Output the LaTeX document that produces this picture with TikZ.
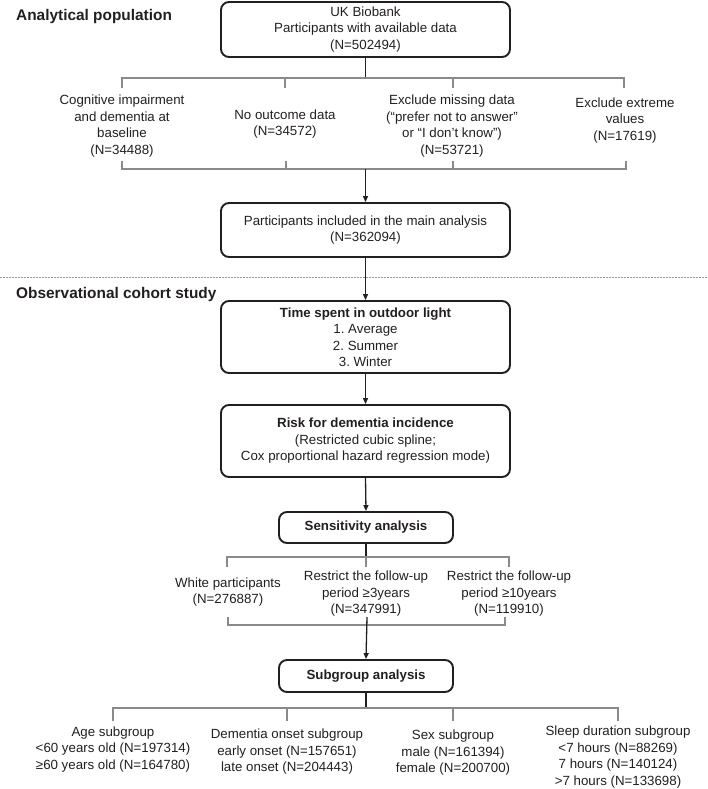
\documentclass[tikz,border=0pt]{standalone}
\usepackage{fontspec}
\setmainfont{Liberation Sans}
\usetikzlibrary{arrows.meta}
\definecolor{ink}{HTML}{231F20}
\definecolor{branchgray}{HTML}{8A8A8A}
\definecolor{dotgray}{HTML}{9A9A9A}
\frenchspacing
\begin{document}
\begin{tikzpicture}[x=1pt,y=-1pt,
  txt/.style={font=\fontsize{13.3}{16.5}\selectfont, text=ink, align=center, inner sep=0pt},
  head/.style={font=\fontsize{15.4}{18}\selectfont\bfseries, text=ink, anchor=west, inner sep=0pt},
  box/.style={txt, draw=ink, line width=1.9pt, rounded corners=8pt},
  conn/.style={draw=ink, line width=1.3pt},
  arr/.style={draw=ink, line width=1.3pt, -{Triangle[length=6pt,width=5pt]}},
  gline/.style={draw=branchgray, line width=1.2pt},
]
\useasboundingbox (0,0) rectangle (708,789);

% ---- headings
\node[head] (h1) at (16,17) {Analytical population};
\node[head] (h2) at (16,295) {Observational cohort study};

% ---- main boxes
\node[box, minimum width=289pt, minimum height=55pt] (b1) at (365.5,29.5)
  {UK Biobank\\Participants with available data\\(N=502494)};
\node[box, minimum width=289pt, minimum height=54pt] (b2) at (365.5,230)
  {Participants included in the main analysis\\(N=362094)};
\node[box, minimum width=289pt, minimum height=72pt] (b3) at (365.5,337)
  {\textbf{Time spent in outdoor light}\\1. Average\\2. Summer\\3. Winter};
\node[box, minimum width=289pt, minimum height=72pt] (b4) at (365.5,441)
  {\textbf{Risk for dementia incidence}\\(Restricted cubic spline;\\Cox proportional hazard regression mode)};
\node[box, minimum width=174pt, minimum height=31pt] (b5) at (366,527.5)
  {\textbf{Sensitivity analysis}};
\node[box, minimum width=174pt, minimum height=32pt] (b6) at (366,676)
  {\textbf{Subgroup analysis}};

% ---- exclusion texts
\node[txt] (e1) at (122,126) {Cognitive impairment\\and dementia at\\baseline\\(N=34488)};
\node[txt] (e2) at (285,124) {No outcome data\\(N=34572)};
\node[txt] (e3) at (452,126) {Exclude missing data\\(“prefer not to answer”\\or “I don’t know”)\\(N=53721)};
\node[txt] (e4) at (625,120.5) {Exclude extreme\\values\\(N=17619)};

% ---- sensitivity texts
\node[txt] (s1) at (228,592) {White participants\\(N=276887)};
\node[txt] (s2) at (366,594) {Restrict the follow-up\\period ≥3years\\(N=347991)};
\node[txt] (s3) at (509,594) {Restrict the follow-up\\period ≥10years\\(N=119910)};

% ---- subgroup texts
\node[txt] (g1) at (113,749.5) {Age subgroup\\<60 years old (N=197314)\\≥60 years old (N=164780)};
\node[txt] (g2) at (287,752) {Dementia onset subgroup\\early onset (N=157651)\\late onset (N=204443)};
\node[txt] (g3) at (453,753) {Sex subgroup\\male (N=161394)\\female (N=200700)};
\node[txt] (g4) at (618,757) {Sleep duration subgroup\\<7 hours (N=88269)\\7 hours (N=140124)\\>7 hours (N=133698)};

% ---- first split and bracket
\coordinate (t1) at (365.5,78);
\coordinate (t1a) at (122,78);  \coordinate (t1aa) at (122,88);
\coordinate (t1b) at (285,78);  \coordinate (t1bb) at (285,88);
\coordinate (t1c) at (453,78);  \coordinate (t1cc) at (453,88);
\coordinate (t1d) at (624,78);  \coordinate (t1dd) at (624,88);
\draw[conn] (b1.south) -- (t1);
\draw[gline] (t1aa) -- (t1a) -- (t1d) -- (t1dd);
\draw[gline] (t1b) -- (t1bb);
\draw[gline] (t1c) -- (t1cc);

\coordinate (k1) at (365.5,169);
\coordinate (k1a) at (122,169); \coordinate (k1aa) at (122,161);
\coordinate (k1b) at (286,169); \coordinate (k1bb) at (286,161);
\coordinate (k1c) at (453,169); \coordinate (k1cc) at (453,161);
\coordinate (k1d) at (626,169); \coordinate (k1dd) at (626,161);
\draw[gline] (k1aa) -- (k1a) -- (k1d) -- (k1dd);
\draw[gline] (k1b) -- (k1bb);
\draw[gline] (k1c) -- (k1cc);
\draw[arr] (k1) -- (b2.north);

% ---- dotted separator
\coordinate (dl) at (0,277);
\coordinate (dr) at (708,277);
\draw[draw=dotgray, line width=1pt, dash pattern=on 1.5pt off 1.5pt] (dl) -- (dr);

% ---- chain
\draw[arr] (b2.south) -- (b3.north);
\draw[arr] (b3.south) -- (b4.north);
\draw[arr] (b4.south) -- (b5.north);

% ---- sensitivity split and bracket
\coordinate (t2) at (366,557);
\coordinate (t2a) at (227,557); \coordinate (t2aa) at (227,567);
\coordinate (t2b) at (366,557); \coordinate (t2bb) at (366,567);
\coordinate (t2c) at (509,557); \coordinate (t2cc) at (509,567);
\draw[conn] (b5.south) -- (t2);
\draw[gline] (t2aa) -- (t2a) -- (t2c) -- (t2cc);
\draw[gline] (t2b) -- (t2bb);

\coordinate (k2a) at (228,625); \coordinate (k2aa) at (228,617);
\coordinate (k2c) at (505,625); \coordinate (k2cc) at (505,617);
\coordinate (k2s) at (367,617);
\draw[gline] (k2aa) -- (k2a) -- (k2c) -- (k2cc);
\draw[arr] (k2s) -- (b6.north);

% ---- subgroup split
\coordinate (t3) at (366,708);
\coordinate (t3a) at (113,708); \coordinate (t3aa) at (113,721);
\coordinate (t3b) at (287,708); \coordinate (t3bb) at (287,721);
\coordinate (t3c) at (453,708); \coordinate (t3cc) at (453,721);
\coordinate (t3d) at (618,708); \coordinate (t3dd) at (618,721);
\draw[conn] (b6.south) -- (t3);
\draw[gline] (t3aa) -- (t3a) -- (t3d) -- (t3dd);
\draw[gline] (t3b) -- (t3bb);
\draw[gline] (t3c) -- (t3cc);
\end{tikzpicture}
\end{document}
